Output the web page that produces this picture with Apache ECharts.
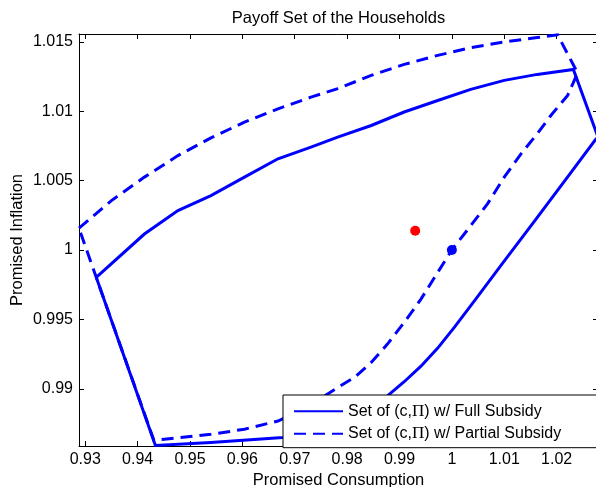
<!DOCTYPE html>
<html>
<head>
<meta charset="utf-8">
<script src="https://cdn.jsdelivr.net/npm/echarts@6/dist/echarts.min.js"></script>
<style>
  html, body { margin: 0; padding: 0; background: #fff; }
  #chart { width: 596px; height: 487px; }
</style>
</head>
<body>
<div id="chart"></div>
<script>
// Boundary of the payoff set with the full subsidy (closed polygon, traced in order)
const fullC = [0.9321, 0.9413, 0.9477, 0.9540, 0.9604, 0.9668, 0.9731, 0.9782, 0.9846, 0.9909,
  0.9973, 1.0036, 1.0100, 1.0163, 1.0232, 1.0279, 1.0274, 1.0224, 1.0161, 1.0097, 1.0047,
  1.0005, 0.9973, 0.9941, 0.9909, 0.9877, 0.9824, 0.9767, 0.9719, 0.9677, 0.9540, 0.9434, 0.9321];
const fullPi = [0.99803, 1.00115, 1.00284, 1.00392, 1.00525, 1.00657, 1.00741, 1.00813, 1.00897, 1.00994,
  1.01077, 1.01157, 1.01222, 1.01265, 1.01301, 1.00813, 1.00794, 1.00541, 1.00224, 0.99906, 0.99654,
  0.99444, 0.99293, 0.99163, 0.99051, 0.98949, 0.98802, 0.98694, 0.98665, 0.98649, 0.98613, 0.98592, 0.99803];

// Boundary of the payoff set with the partial subsidy
const partialC = [0.92881, 0.9350, 0.9413, 0.9477, 0.9540, 0.9604, 0.9668, 0.9731, 0.9782, 0.9846,
  0.9909, 0.9973, 1.0036, 1.0100, 1.0163, 1.0202, 1.0240, 1.0221, 1.0189, 1.0163, 1.0132,
  1.0100, 1.0068, 1.0036, 1.0000, 0.9973, 0.9941, 0.9909, 0.9877, 0.9846, 0.9814, 0.9782,
  0.9745, 0.9710, 0.9668, 0.9604, 0.9540, 0.9451, 0.9431, 0.9321, 0.92881];
const partialPi = [1.00157, 1.00356, 1.00525, 1.00680, 1.00808, 1.00921, 1.01017, 1.01101, 1.01162, 1.01258,
  1.01337, 1.01402, 1.01457, 1.01499, 1.01530, 1.01550, 1.01275, 1.01113, 1.00969, 1.00837, 1.00693,
  1.00525, 1.00332, 1.00175, 1.00000, 0.99839, 0.99646, 0.99478, 0.99322, 0.99190, 0.99082, 0.99009,
  0.98920, 0.98840, 0.98768, 0.98709, 0.98672, 0.98636, 0.98629, 0.99803, 1.00157];

// Reference points
const redPoint = [0.9930, 1.00139];
const bluePoint = [1.0, 1.0];

// Axis limits and tick labels
const xMin = 0.92881, xMax = 1.0279;
const yMin = 0.98588, yMax = 1.01556;
const xTicks = [0.93, 0.94, 0.95, 0.96, 0.97, 0.98, 0.99, 1.00, 1.01, 1.02];
const yTicks = [0.99, 0.995, 1.000, 1.005, 1.010, 1.015];

const fullName = 'Set of (c,Π) w/ Full Subsidy';
const partialName = 'Set of (c,Π) w/ Partial Subsidy';

const FONT = 'Liberation Sans, Arial, Helvetica, sans-serif';
const zip = (a, b) => a.map((v, i) => [v, b[i]]);
const fmt = v => String(parseFloat(Number(v).toFixed(3)));

function axisBase(extra) {
  return Object.assign({
    type: 'value',
    axisLine: { show: true, onZero: false, lineStyle: { color: '#000', width: 1 } },
    splitLine: { show: false },
  }, extra);
}

const chart = echarts.init(document.getElementById('chart'), null, { renderer: 'canvas' });
chart.setOption({
  animation: false,
  backgroundColor: '#fff',
  title: {
    text: 'Payoff Set of the Households',
    left: 338.5, top: 9.5, padding: 0, textAlign: 'center',
    textStyle: { fontFamily: FONT, fontSize: 16.5, fontWeight: 'normal', color: '#000' }
  },
  grid: { left: 79, right: -2, top: 34, bottom: 41, containLabel: false, outerBoundsMode: 'none' },
  xAxis: [
    axisBase({
      position: 'bottom', min: xMin, max: xMax,
      axisTick: { show: true, inside: true, length: 5, customValues: xTicks, lineStyle: { color: '#000' } },
      axisLabel: { customValues: xTicks, formatter: fmt, color: '#000', fontFamily: FONT, fontSize: 16, margin: 6 },
      name: 'Promised Consumption', nameLocation: 'middle', nameGap: 26, nameMoveOverlap: false,
      nameTextStyle: { fontFamily: FONT, fontSize: 16.5, color: '#000' }
    }),
    axisBase({
      position: 'top', min: xMin, max: xMax,
      axisTick: { show: true, inside: true, length: 5, customValues: xTicks, lineStyle: { color: '#000' } },
      axisLabel: { show: false }
    })
  ],
  yAxis: [
    axisBase({
      position: 'left', min: yMin, max: yMax,
      axisTick: { show: true, inside: true, length: 5, customValues: yTicks, lineStyle: { color: '#000' } },
      axisLabel: { customValues: yTicks, formatter: fmt, color: '#000', fontFamily: FONT, fontSize: 16, margin: 6 },
      name: 'Promised Inflation', nameLocation: 'middle', nameGap: 53, nameRotate: 90, nameMoveOverlap: false,
      nameTextStyle: { fontFamily: FONT, fontSize: 16.5, color: '#000' }
    }),
    axisBase({
      position: 'right', min: yMin, max: yMax,
      axisTick: { show: true, inside: true, length: 5, customValues: yTicks, lineStyle: { color: '#000' } },
      axisLabel: { show: false }
    })
  ],
  legend: {
    data: [fullName, partialName],
    orient: 'vertical',
    left: 283, top: 395,
    padding: [7.7, 40, 5.4, 10],
    itemWidth: 49, itemHeight: 14, itemGap: 5.6,
    backgroundColor: '#fff', borderColor: '#000', borderWidth: 1, borderRadius: 0,
    itemStyle: { opacity: 0 },
    formatter: name => name.replace('Π', '{p|Π}'),
    textStyle: {
      fontFamily: FONT, fontSize: 16, lineHeight: 16, color: '#000',
      rich: { p: { fontFamily: 'Liberation Serif, Times New Roman, serif', fontSize: 17, lineHeight: 16, color: '#000' } }
    }
  },
  series: [
    {
      name: fullName, type: 'line', data: zip(fullC, fullPi),
      symbol: 'none', smooth: false, clip: true,
      lineStyle: { color: '#0000ff', width: 3, type: 'solid', join: 'miter' },
      itemStyle: { color: '#0000ff' }
    },
    {
      name: partialName, type: 'line', data: zip(partialC, partialPi),
      symbol: 'none', smooth: false, clip: true,
      lineStyle: { color: '#0000ff', width: 3, type: [12, 7], join: 'miter' },
      itemStyle: { color: '#0000ff' }
    },
    {
      name: 'red', type: 'scatter', data: [redPoint], symbolSize: 10, z: 5,
      itemStyle: { color: '#ff0000', opacity: 1 }
    },
    {
      name: 'blue', type: 'scatter', data: [bluePoint], symbolSize: 10, z: 5,
      itemStyle: { color: '#0000ff', opacity: 1 }
    }
  ]
});
</script>
</body>
</html>
